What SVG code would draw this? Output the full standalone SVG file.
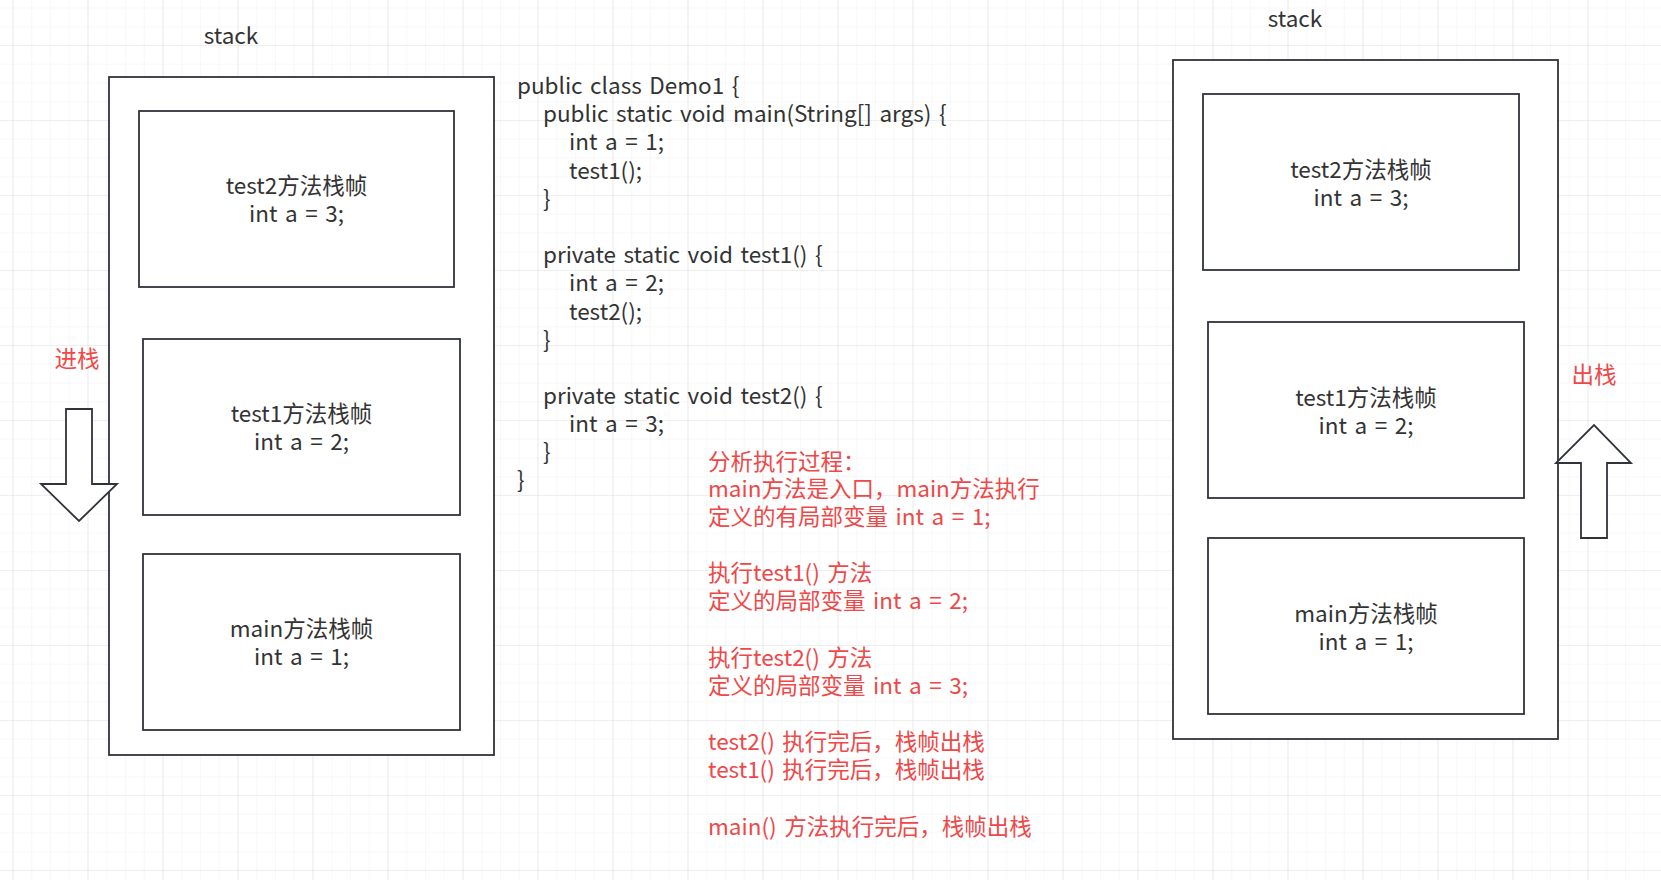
<svg xmlns="http://www.w3.org/2000/svg" width="1661" height="880" viewBox="0 0 1661 880">
<defs>
<pattern id="minor" patternUnits="userSpaceOnUse" x="12.5" y="7.5" width="18.75" height="18.75">
<path d="M0 0V18.75M0 0H18.75" fill="none" stroke="#f1f1f1" stroke-width="1"/>
</pattern>
<pattern id="major" patternUnits="userSpaceOnUse" x="12.5" y="45" width="75" height="75">
<path d="M0 0V75M0 0H75" fill="none" stroke="#e3e3e3" stroke-width="1.2"/>
</pattern>
</defs>
<style>
.t{font-family:"Noto Sans CJK SC","Noto Sans",sans-serif;font-size:22.5px;fill:#333333;word-spacing:2.5px}
.c{text-anchor:middle}
.r{fill:#ee4848}
.box{fill:#ffffff;stroke:#30343a;stroke-width:1.8}
.arrow{fill:#ffffff;stroke:#30343a;stroke-width:1.8;stroke-linejoin:miter}
</style>
<rect width="1661" height="880" fill="#ffffff"/>
<rect width="1661" height="880" fill="url(#minor)"/>
<rect width="1661" height="880" fill="url(#major)"/>

<g id="left-stack">
<text class="t c" x="231" y="44">stack</text>
<rect class="box" x="109" y="77" width="385" height="678"/>
</g>
<g id="left-test2">
<rect class="box" x="139" y="111" width="315" height="176"/>
<text class="t c" x="296.5" y="194">test2方法栈帧<tspan x="296.5" dy="28">int a = 3;</tspan></text>
</g>
<g id="left-test1">
<rect class="box" x="143" y="339" width="317" height="176"/>
<text class="t c" x="301.5" y="422">test1方法栈帧<tspan x="301.5" dy="28">int a = 2;</tspan></text>
</g>
<g id="left-main">
<rect class="box" x="143" y="554" width="317" height="176"/>
<text class="t c" x="301.5" y="637">main方法栈帧<tspan x="301.5" dy="28">int a = 1;</tspan></text>
</g>
<g id="label-push">
<text class="t c r" x="77" y="367">进栈</text>
</g>

<g id="right-stack">
<text class="t c" x="1295" y="27">stack</text>
<rect class="box" x="1173" y="60" width="385" height="679"/>
</g>
<g id="right-test2">
<rect class="box" x="1203" y="94" width="316" height="176"/>
<text class="t c" x="1361" y="178">test2方法栈帧<tspan x="1361" dy="28">int a = 3;</tspan></text>
</g>
<g id="right-test1">
<rect class="box" x="1208" y="322" width="316" height="176"/>
<text class="t c" x="1366" y="406">test1方法栈帧<tspan x="1366" dy="28">int a = 2;</tspan></text>
</g>
<g id="right-main">
<rect class="box" x="1208" y="538" width="316" height="176"/>
<text class="t c" x="1366" y="622">main方法栈帧<tspan x="1366" dy="28">int a = 1;</tspan></text>
</g>
<g id="label-pop">
<text class="t c r" x="1594" y="383">出栈</text>
</g>

<g id="code">
<text class="t" x="517" y="94">public class Demo1 {<tspan x="543" y="122">public static void main(String[] args) {</tspan><tspan x="569" y="150">int a = 1;</tspan><tspan x="569" y="179">test1();</tspan><tspan x="543" y="207">}</tspan><tspan x="543" y="263">private static void test1() {</tspan><tspan x="569" y="291">int a = 2;</tspan><tspan x="569" y="320">test2();</tspan><tspan x="543" y="348">}</tspan><tspan x="543" y="404">private static void test2() {</tspan><tspan x="569" y="432">int a = 3;</tspan><tspan x="543" y="460">}</tspan><tspan x="517" y="488">}</tspan></text>
</g>

<g id="analysis">
<text class="t r" x="708" y="470">分析执行过程：<tspan x="708" y="497">main方法是入口，main方法执行</tspan><tspan x="708" y="525">定义的有局部变量 int a = 1;</tspan><tspan x="708" y="581">执行test1() 方法</tspan><tspan x="708" y="609">定义的局部变量 int a = 2;</tspan><tspan x="708" y="666">执行test2() 方法</tspan><tspan x="708" y="694">定义的局部变量 int a = 3;</tspan><tspan x="708" y="750">test2() 执行完后，栈帧出栈</tspan><tspan x="708" y="778">test1() 执行完后，栈帧出栈</tspan><tspan x="708" y="835">main() 方法执行完后，栈帧出栈</tspan></text>
</g>

<g id="connectors">
<path id="arrow-push" class="arrow" d="M66 409H92V484H117L79 521L41 484H66Z"/>
<path id="arrow-pop" class="arrow" d="M1581 538H1607V463H1631L1594 425L1556 463H1581Z"/>
</g>
</svg>
